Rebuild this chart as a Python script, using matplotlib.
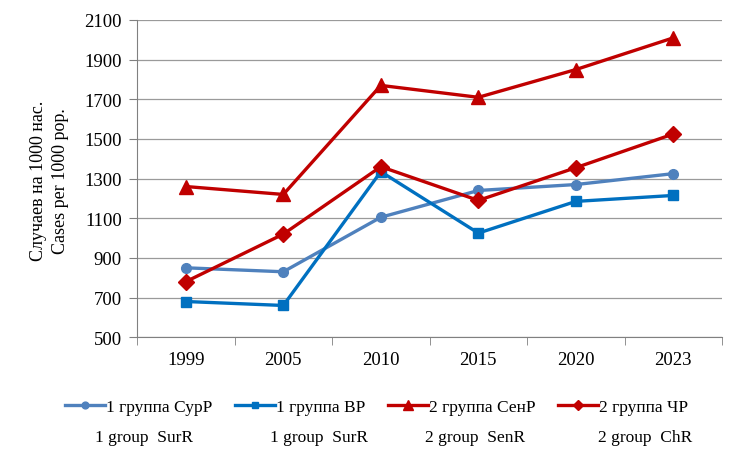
import numpy as np
import matplotlib.pyplot as plt

plt.rcParams['font.family'] = ['Liberation Serif', 'DejaVu Serif']

years = ['1999', '2005', '2010', '2015', '2020', '2023']
sur_p = [850, 830, 1105, 1240, 1270, 1325]
v_p = [680, 660, 1335, 1025, 1185, 1215]
sen_p = [1260, 1220, 1770, 1710, 1850, 2010]
ch_p = [780, 1020, 1360, 1190, 1355, 1525]

labels_ru = ['1 группа СурР', '1 группа ВР', '2 группа СенР', '2 группа ЧР']
labels_en = ['1 group  SurR', '1 group  SurR', '2 group  SenR', '2 group  ChR']

fig = plt.figure(figsize=(7.53, 4.77), dpi=100)
ax = fig.add_axes([0.182, 0.291, 0.777, 0.665])

x = np.arange(len(years))
ax.plot(x, sur_p, color='#4F81BD', lw=2.4, marker='o', ms=7, label=labels_ru[0])
ax.plot(x, v_p, color='#0070C0', lw=2.4, marker='s', ms=7, label=labels_ru[1])
ax.plot(x, sen_p, color='#C00000', lw=2.4, marker='^', ms=10, label=labels_ru[2])
ax.plot(x, ch_p, color='#C00000', lw=2.4, marker='D', ms=8, label=labels_ru[3])

ax.set_xlim(-0.5, len(years) - 0.5)
ax.set_ylim(500, 2100)
ax.set_yticks(np.arange(500, 2101, 200))
ax.set_xticks(x)
ax.set_xticklabels(years)
ax.set_xticks(np.arange(-0.5, len(years)), minor=True)
ax.tick_params(axis='x', which='major', length=0, pad=10, labelsize=13.5)
ax.tick_params(axis='x', which='minor', length=6, color='#808080')
ax.tick_params(axis='y', length=6, color='#808080', labelsize=13.5, pad=5)
ax.grid(axis='y', color='#9a9a9a', lw=0.9)
ax.set_axisbelow(True)
for s in ['top', 'right']:
    ax.spines[s].set_visible(False)
for s in ['left', 'bottom']:
    ax.spines[s].set_color('#808080')

fig.text(0.066, 0.62, 'Случаев на 1000 нас.\nCases per 1000 pop.', rotation=90,
         ha='center', va='center', fontsize=13, linespacing=1.35)

fig.legend(loc='center', bbox_to_anchor=(0.5, 1 - 408 / 477), ncol=4, frameon=False,
           fontsize=12.5, handlelength=2.3, handletextpad=0.05, columnspacing=1.3,
           markerscale=0.7)

en_x = [95, 270, 425, 598]
for xp, t in zip(en_x, labels_en):
    fig.text(xp / 753, 1 - 438 / 477, t, ha='left', va='center', fontsize=12.5)

fig.savefig('out.png', dpi=100)
